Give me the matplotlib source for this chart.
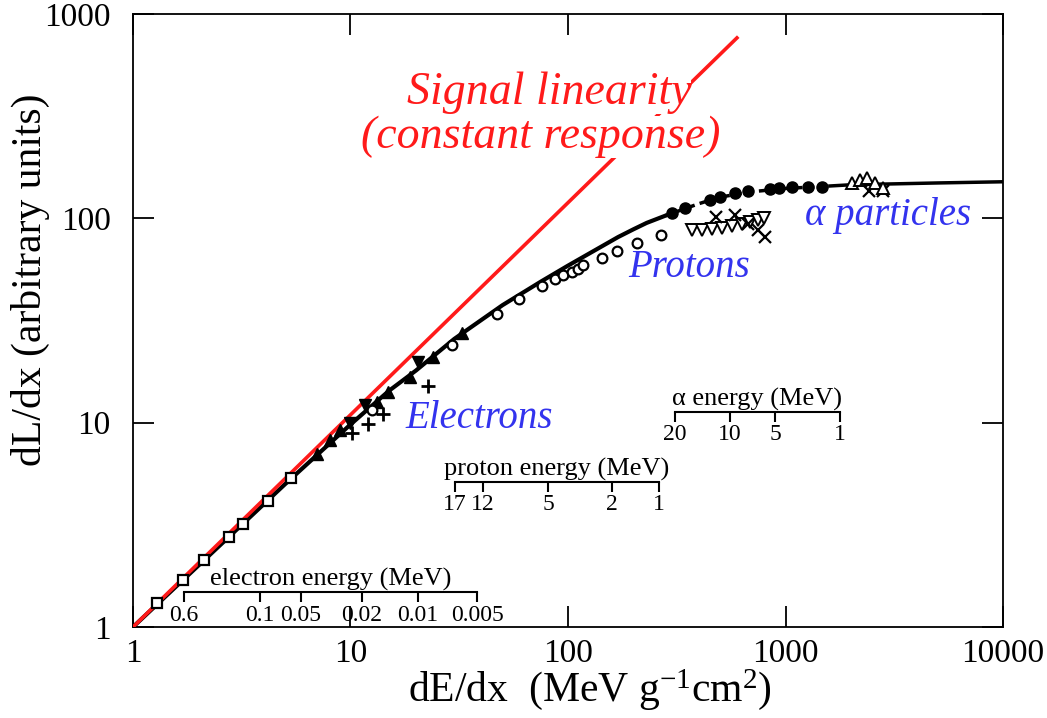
import matplotlib
matplotlib.use("Agg")
import matplotlib.pyplot as plt
from matplotlib.ticker import NullLocator
import numpy as np

plt.rcParams['font.family'] = ['Liberation Serif', 'DejaVu Serif']
plt.rcParams['mathtext.fontset'] = 'custom'
plt.rcParams['mathtext.rm'] = 'Liberation Serif'
plt.rcParams['mathtext.it'] = 'Liberation Serif:italic'

# response curve (dE/dx, dL/dx)
curve_x = [1, 5, 10, 15, 20, 30, 50, 75, 100, 170, 200, 230, 280, 400, 500, 700, 1000, 1600, 2000, 5000, 10000]
curve_y = [1, 5, 9.8, 14.3, 18, 25.7, 37.6, 49, 58.7, 81, 88.4, 95, 103, 118, 127, 135, 140, 144, 146, 149, 151]

# signal linearity line
lin_x = [1, 598]
lin_y = [1, 764]

# electrons, open squares
sq_x = [1.29, 1.70, 2.12, 2.76, 3.20, 4.18, 5.33]
sq_y = [1.31, 1.70, 2.13, 2.75, 3.19, 4.14, 5.37]

# filled triangles
tri_x = [7.01, 8.05, 8.95, 13.24, 14.87, 18.77, 23.95, 32.55]
tri_y = [7.03, 8.23, 9.21, 12.63, 14.14, 16.74, 20.97, 27.48]
dtri_x = [9.95, 11.66, 20.43]
dtri_y = [9.97, 12.21, 19.82]

# plus markers
plus_x = [10.16, 12.04, 14.11, 22.72]
plus_y = [8.91, 9.85, 11.03, 15.12]

# protons, open circles
oc_x = [12.56, 29.29, 47.17, 59.53, 75.95, 87.15, 94.84, 104.3, 111.2, 117.2, 143.3, 168.0, 207.6, 267.7]
oc_y = [11.54, 24.01, 34.05, 40.32, 46.69, 50.51, 52.84, 54.65, 56.53, 59.14, 64.0, 69.25, 75.79, 82.93]

# filled circles
fc_x = [300.8, 345.1, 449.7, 499.9, 586.0, 672.4, 848.6, 933.3, 1071, 1269, 1472]
fc_y = [106.3, 112.4, 123.0, 127.3, 133.1, 136.2, 139.3, 140.9, 142.5, 142.5, 142.5]

# open down triangles
nab_x = [371.6, 413.1, 459.3, 510.5, 567.5, 631, 686.8, 747.4, 796.1]
nab_y = [87.75, 87.75, 88.74, 89.74, 91.79, 93.9, 96.0, 98.2, 100.5]

# crosses
cr_x = [479.1, 586.0, 672.4, 747.4, 804.6, 2421, 2808]
cr_y = [101.6, 103.9, 93.9, 87.75, 81.1, 136.2, 136.2]

# alpha, open up triangles
otri_x = [2021, 2200, 2370, 2579, 2808]
otri_y = [149.0, 154.2, 157.7, 149.0, 140.0]

# energy scales: position on dE/dx axis and energy label
e_pos = [1.716, 3.84, 5.92, 11.29, 20.4, 38.2]
e_lab = ['0.6', '0.1', '0.05', '0.02', '0.01', '0.005']
p_pos = [30.2, 40.7, 80.9, 159, 262]
p_lab = ['17', '12', '5', '2', '1']
a_pos = [310, 556, 895, 1782]
a_lab = ['20', '10', '5', '1']

fig = plt.figure(figsize=(10.47, 7.18), dpi=100)
ax = fig.add_axes([0.127, 0.1267, 0.831, 0.8538])
ax.set_xscale('log')
ax.set_yscale('log')
ax.set_xlim(1, 10000)
ax.set_ylim(1, 1000)

cx = np.array(curve_x)
cy = np.array(curve_y)
m1 = cx <= 280
m2 = (cx >= 280) & (cx <= 1600)
m3 = cx >= 1600
ax.plot(cx[m1], cy[m1], color='black', lw=3, zorder=2)
ax.plot(cx[m2], cy[m2], color='black', lw=2.5, ls=(0, (2, 1.5)), zorder=2)
ax.plot(cx[m3], cy[m3], color='black', lw=2.5, zorder=2)

ax.plot(lin_x, lin_y, color='#ff1a1a', lw=2.6, zorder=3)

mk = dict(ls='none', zorder=4)
ax.plot(sq_x, sq_y, marker='s', ms=7, mfc='white', mec='black', mew=1.6, **mk)
ax.plot(tri_x, tri_y, marker='^', ms=9, color='black', **mk)
ax.plot(dtri_x, dtri_y, marker='v', ms=9, color='black', **mk)
ax.plot(plus_x, plus_y, marker='+', ms=10, color='black', mew=2, **mk)
ax.plot(oc_x, oc_y, marker='o', ms=7, mfc='white', mec='black', mew=1.6, **mk)
ax.plot(fc_x, fc_y, marker='o', ms=8, color='black', **mk)
ax.plot(nab_x, nab_y, marker='v', ms=8, mfc='white', mec='black', mew=1.4, **mk)
ax.plot(cr_x, cr_y, marker='x', ms=8, color='black', mew=1.6, **mk)
ax.plot(otri_x, otri_y, marker='^', ms=8, mfc='white', mec='black', mew=1.4, **mk)

ax.tick_params(which='major', direction='in', length=15, width=1.3, top=True, right=True,
               labelsize=24)
ax.tick_params(axis='x', pad=8)
ax.tick_params(axis='y', pad=16)
ax.xaxis.set_minor_locator(NullLocator())
ax.yaxis.set_minor_locator(NullLocator())
ax.set_xticks([1, 10, 100, 1000, 10000])
ax.set_xticklabels(['1', '10', '100', '1000', '10000'])
ax.set_yticks([1, 10, 100, 1000])
ax.set_yticklabels(['1', '10', '100', '1000'])
for s in ax.spines.values():
    s.set_linewidth(1.3)

ax.set_xlabel(r'dE/dx  (MeV g$^{-1}$cm$^{2}$)', fontsize=30)
ax.set_ylabel('dL/dx (arbitrary units)', fontsize=30)
ax.xaxis.set_label_coords(0.525, -0.065)
ax.yaxis.set_label_coords(-0.095, 0.566)

red_txt = dict(color='#ff1a1a', fontsize=33, style='italic', ha='center', va='center',
               bbox=dict(facecolor='white', edgecolor='none', pad=0), zorder=5)
ax.text(81.8, 411, 'Signal linearity', **red_txt)
ax.text(75.2, 250, '(constant response)', **red_txt)

blue = '#3333ee'
ax.text(17.8, 10.54, 'Electrons', color=blue, fontsize=28, style='italic', va='center')
ax.text(188.7, 57.2, 'Protons', color=blue, fontsize=28, style='italic', va='center')
ax.text(1229, 102.7, 'α particles', color=blue, fontsize=28, style='italic', va='center')


def energy_scale(pos, labels, y, title):
    sa = ax.inset_axes([pos[0], y, pos[-1] - pos[0], y * 0.01], transform=ax.transData)
    sa.set_xscale('log')
    sa.set_xlim(pos[0], pos[-1])
    sa.set_xticks(pos)
    sa.set_xticklabels(labels)
    sa.xaxis.set_minor_locator(NullLocator())
    sa.set_yticks([])
    sa.patch.set_visible(False)
    for side in ['top', 'left', 'right']:
        sa.spines[side].set_visible(False)
    sa.spines['bottom'].set_linewidth(1.5)
    sa.tick_params(axis='x', direction='out', length=7, width=1.5, labelsize=17, pad=2)
    sa.set_title(title, fontsize=19, pad=2)


energy_scale(e_pos, e_lab, 1.48, 'electron energy (MeV)')
energy_scale(p_pos, p_lab, 5.13, 'proton energy (MeV)')
energy_scale(a_pos, a_lab, 11.28, 'α energy (MeV)')

fig.savefig('out.png', dpi=100)
